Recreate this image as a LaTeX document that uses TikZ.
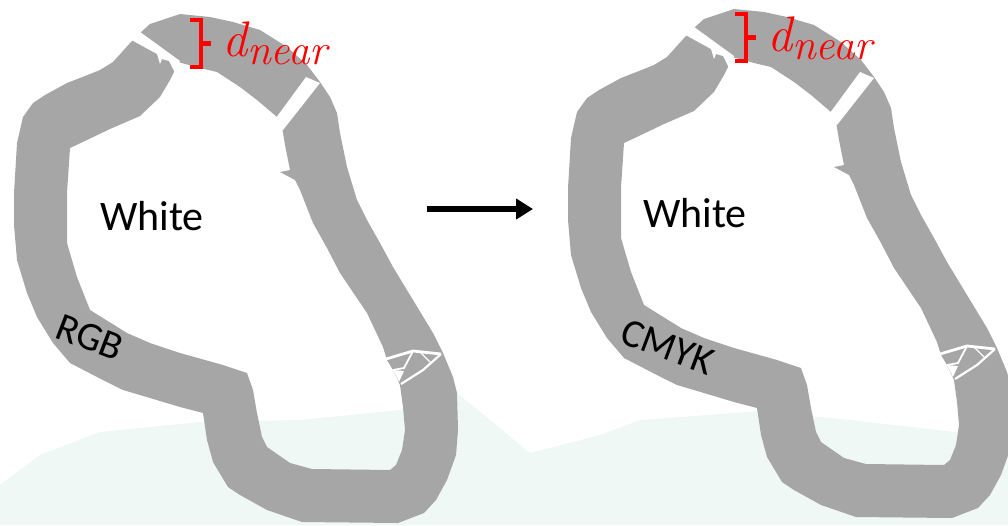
\documentclass[tikz,border=0pt]{standalone}
\usepackage{fontspec}
\setmainfont{Carlito}
\newfontfamily\lmfont{Latin Modern Roman}
\usetikzlibrary{arrows.meta}
\definecolor{bandgray}{RGB}{166,166,166}
\definecolor{tintc}{RGB}{240,248,246}
\definecolor{bracered}{RGB}{255,0,0}
\tikzset{
  band/.style={fill=bandgray, even odd rule},
  cutfill/.style={fill=white},
  cutline/.style={draw=white, line join=miter},
  lbl/.style={inner sep=0pt, anchor=base west, font=\fontsize{40}{48}\selectfont},
  whitelbl/.style={inner sep=0pt, anchor=base west, font=\fontsize{42}{50}\selectfont},
  dlbl/.style={inner sep=0pt, anchor=base west, text=bracered},
  bracepath/.style={draw=bracered, line width=4.5pt, line join=miter, line cap=butt},
  flow/.style={line width=6pt, -{Triangle[length=17pt,width=20pt]}}
}
\newcommand{\myblob}{%
  \fill[band]
    (150,24) -- (180,14) -- (210,17) -- (233,22) -- (260,30) -- (287,47) -- (307,65)
    -- (320,82) -- (330,97) -- (337,113) -- (340,133) -- (347,167) -- (357,200)
    -- (367,220) -- (380,243) -- (393,267) -- (413,300) -- (433,333) -- (443,353)
    -- (453,377) -- (457,393) -- (458,430) -- (456,455) -- (447,480) -- (436,500)
    -- (424,513) -- (398,523) -- (302,522) -- (267,510) -- (240,495) -- (228,487)
    -- (213,462) -- (207,440) -- (203,413) -- (180,407) -- (150,398) -- (123,390)
    -- (97,377) -- (70,363) -- (53,343) -- (37,317) -- (27,293) -- (17,260)
    -- (14,225) -- (14,193) -- (17,143) -- (23,117) -- (33,103) -- (45,95)
    -- (67,83) -- (85,76) -- (100,70) -- (113,62) -- (131,42) -- (140,33) -- cycle
    (178,62) -- (200,68) -- (217,72) -- (240,87) -- (257,100) -- (277,117)
    -- (282,127) -- (285,145) -- (290,170) -- (280,172) -- (295,180) -- (300,190)
    -- (313,223) -- (327,248) -- (340,273) -- (367,313) -- (383,347) -- (387,360)
    -- (393,370) -- (400,385) -- (403,407) -- (405,430) -- (402,450) -- (396,465)
    -- (390,470) -- (312,469) -- (290,463) -- (267,447) -- (262,437) -- (257,413)
    -- (253,390) -- (247,373) -- (223,365) -- (180,353) -- (150,343) -- (127,333)
    -- (90,310) -- (77,277) -- (67,243) -- (67,193) -- (70,148) -- (87,140)
    -- (110,129) -- (140,116) -- (160,97) -- (170,80) -- (174,72) -- cycle;
  % cut near top left
  \fill[cutfill] (126,37) -- (136,29) -- (180,61) -- (175,73) -- (169,61)
    -- (162,59) -- (160,64) -- (157,54) -- cycle;
  % cut near top right
  \fill[cutfill] (273,122) -- (306,77) -- (320,83) -- (283,130) -- cycle;
  % lattice cut at lower right
  \draw[cutline, line width=2.8pt] (386,359) -- (413,351) -- (441,354);
  \draw[cutline, line width=2.2pt] (441,354) -- (423,370) -- (401,384);
  \draw[cutline, line width=1.8pt] (413,351) -- (404,368) -- (393,370);
  \draw[cutline, line width=1.4pt] (420,352) -- (430,362);
  \fill[cutfill] (393,370) -- (404,371) -- (399,382) -- cycle;
}
\begin{document}
\begin{tikzpicture}[x=1pt, y=-1pt]
  \useasboundingbox (0,0) rectangle (1008,525);
  % faint background tint
  \fill[tintc] (0,525) -- (0,485) -- (40,455) -- (100,432) -- (200,422) -- (300,420)
    -- (420,408) -- (457,393) -- (490,420) -- (530,453) -- (600,435) -- (640,420)
    -- (760,411) -- (850,420) -- (1008,438) -- (1008,525) -- cycle;

  % left blob
  \begin{scope}
    \myblob
  \end{scope}
  % right blob
  \begin{scope}[shift={(554,-5)}]
    \myblob
  \end{scope}

  % labels
  \node[whitelbl] (w1) at (100,230) {White};
  \node[whitelbl] (w2) at (643,227) {White};
  \node[lbl, rotate=-21] (rgb) at (53,337) {RGB};
  \node[lbl, rotate=-20.5] (cmyk) at (618,342) {CMYK};

  % d_near markers
  \draw[bracepath] (190,20) -- (201,20) -- (201,67) -- (190,67);
  \draw[bracepath] (201,43.5) -- (211,43.5);
  \node[dlbl] (d1) at (222,56) {\lmfont\itshape\fontsize{50}{56}\selectfont d\raisebox{-8pt}{\fontsize{43}{48}\selectfont near}};
  \draw[bracepath] (735,14) -- (746,14) -- (746,61) -- (735,61);
  \draw[bracepath] (746,37.5) -- (756,37.5);
  \node[dlbl] (d2) at (767,51) {\lmfont\itshape\fontsize{50}{56}\selectfont d\raisebox{-8pt}{\fontsize{43}{48}\selectfont near}};

  % arrow
  \coordinate (a1) at (427,209);
  \coordinate (a2) at (533,209);
  \draw[flow] (a1) -- (a2);
\end{tikzpicture}
\end{document}
